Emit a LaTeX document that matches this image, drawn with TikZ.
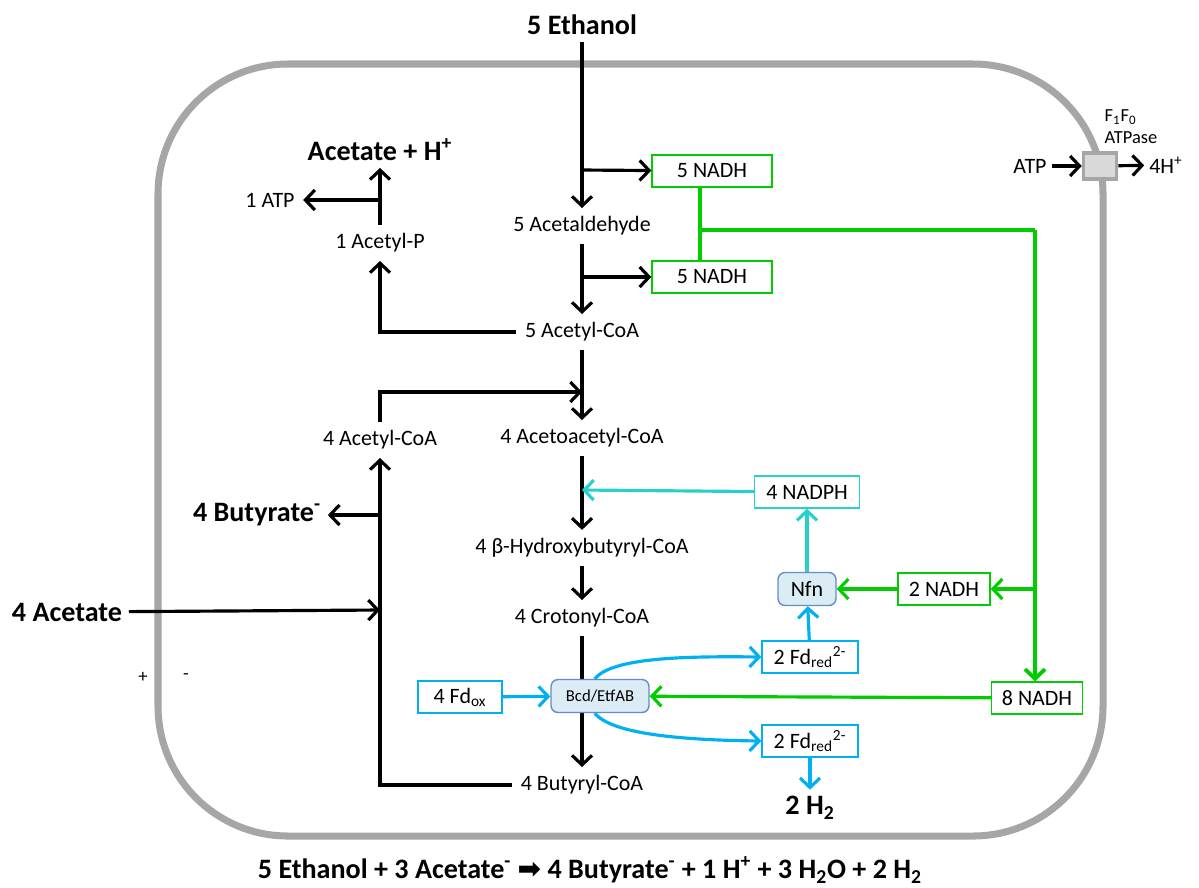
\documentclass[tikz,border=0pt]{standalone}
\usepackage{fontspec}
\setmainfont{Carlito}
\newfontfamily\dejavu{DejaVu Sans}
\usepackage{tikz}
\usetikzlibrary{arrows.meta, positioning}
\usepackage{xcolor}
\definecolor{grn}{RGB}{0,204,0}
\definecolor{cyn}{RGB}{40,208,204}
\definecolor{blu}{RGB}{0,176,240}
\definecolor{enzfill}{RGB}{219,236,244}
\definecolor{enzline}{RGB}{100,140,200}
\definecolor{membr}{RGB}{166,166,166}
\tikzset{>={Straight Barb[length=1.9mm,width=4mm]}}

\begin{document}
\begin{tikzpicture}[x=0.02cm, y=-0.02cm, line width=1.8pt,
    met/.style={font=\fontsize{12.5}{15}\selectfont, inner sep=4pt},
    bold/.style={font=\bfseries\fontsize{16}{19}\selectfont, inner sep=3pt},
    cof/.style={draw, line width=0.8pt, fill=white, font=\fontsize{12.5}{15}\selectfont,
                minimum height=0.64cm, inner sep=2pt},
    enz/.style={draw=enzline, fill=enzfill, line width=0.8pt, rounded corners=4pt,
                minimum height=0.66cm, inner sep=2pt},
    arr/.style={->},
    small/.style={font=\fontsize{10.5}{12.5}\selectfont, inner sep=1pt}]

    \useasboundingbox (0,0) rectangle (1199,887);

    % Zellmembran
    \draw[membr, line width=4pt, rounded corners=2.6cm] (158,64) rectangle (1103,836);

    % Metabolite
    \node[bold] (eth) at (582,25) {5 Ethanol};
    \node[met] (ald) at (582,226) {5 Acetaldehyde};
    \node[met] (acoa5) at (582,332) {5 Acetyl-CoA};
    \node[met] (acp) at (380,243) {1 Acetyl-P};
    \node[bold] (ach) at (380,150) {Acetate + H\textsuperscript{+}};
    \node[met] (atp1) at (270,200) {1 ATP};
    \node[met] (acoa4) at (380,440) {4 Acetyl-CoA};
    \node[met] (aaca) at (582,438) {4 Acetoacetyl-CoA};
    \node[met] (hbc) at (582,548) {4 β-Hydroxybutyryl-CoA};
    \node[met] (crot) at (582,618) {4 Crotonyl-CoA};
    \node[met] (bcoa) at (582,785) {4 Butyryl-CoA};
    \node[bold] (but) at (257,515) {4 Butyrate\textsuperscript{-}};
    \node[bold] (acet) at (67,612) {4 Acetate};
    \node[bold] (h2) at (810,808) {2 H\textsubscript{2}};

    % Kofaktoren
    \node[cof, draw=grn, minimum width=2.4cm] (nadh1) at (712,171) {5 NADH};
    \node[cof, draw=grn, minimum width=2.4cm] (nadh1b) at (712,277) {5 NADH};
    \node[cof, draw=cyn, minimum width=2.1cm] (nadph) at (807,492) {4 NADPH};
    \node[cof, draw=grn, minimum width=1.84cm] (nadh2) at (944,589) {2 NADH};
    \node[cof, draw=grn, minimum width=1.82cm] (nadh8) at (1037,698) {8 NADH};
    \node[cof, draw=blu, minimum width=1.68cm] (fdox) at (460,697) {4 Fd\textsubscript{ox}};
    \node[cof, draw=blu, minimum width=1.92cm] (fdr1) at (810,657) {2 Fd\textsubscript{red}\textsuperscript{2-}};
    \node[cof, draw=blu, minimum width=1.92cm] (fdr2) at (810,741) {2 Fd\textsubscript{red}\textsuperscript{2-}};

    % Hauptweg
    \coordinate (b1) at (582,170);
    \coordinate (b2) at (582,277);
    \coordinate (j1) at (582,392);
    \coordinate (j2) at (380,610);
    \coordinate (j3) at (380,515);
    \coordinate (j4) at (582,490);
    \coordinate (j5) at (380,200);
    \draw[arr] (eth) -- (ald);
    \draw[arr] (b1) -- (nadh1);
    \draw[arr] (ald) -- (acoa5);
    \draw[arr] (b2) -- (nadh1b);
    \draw[arr] (acoa5.west) -| (acp);
    \draw[arr] (acp) -- (ach);
    \draw[arr] (j5) -- (atp1);
    \draw[arr] (acoa5) -- (aaca);
    \draw[arr] (acoa4) |- (j1);
    \draw[arr] (aaca) -- (hbc);
    \draw[arr] (hbc) -- (crot);
    \draw[arr] (crot) -- (bcoa);
    \draw[arr] (bcoa.west) -| (acoa4);
    \draw[arr] (acet) -- (j2);
    \draw[arr] (j3) -- (but);

    % Enzyme
    \node[enz, minimum width=1.96cm, font=\fontsize{9.5}{11}\selectfont] (bcd) at (600,696) {Bcd/EtfAB};
    \node[enz, minimum width=1.16cm, font=\fontsize{12.5}{15}\selectfont] (nfn) at (807,589) {Nfn};

    % Ferredoxin und NADPH
    \draw[arr, blu] (fdox) -- (bcd);
    \draw[arr, blu] ([xshift=-3pt]bcd.north) .. controls (612,658) and (680,656) .. (fdr1.west);
    \draw[arr, blu] ([xshift=-3pt]bcd.south) .. controls (612,734) and (680,740) .. (fdr2.west);
    \draw[arr, blu] (fdr2) -- (h2);
    \draw[arr, blu] (fdr1) -- (nfn);
    \draw[arr, cyn] (nfn) -- (nadph);
    \draw[arr, cyn] (nadph) -- (j4);

    % NADH Verteilung
    \coordinate (g1) at (700,230);
    \coordinate (g2) at (1035,230);
    \coordinate (g3) at (1035,589);
    \draw[grn, line width=2.2pt] (g1 |- nadh1.south) -- (g1 |- nadh1b.north);
    \draw[grn, line width=2.8pt] (g1) -- (g2);
    \draw[arr, grn, line width=2.2pt] (g2) -- (g2 |- nadh8.north);
    \draw[arr, grn] (g3) -- (nadh2);
    \draw[arr, grn] (nadh2) -- (nfn);
    \draw[arr, grn] (nadh8) -- (bcd);

    % ATPase in der Membran
    \node[draw=membr, fill=black!15, line width=2pt, minimum width=0.66cm, minimum height=0.52cm] (atpase) at (1100,166) {};
    \node[small, align=left] (f1f0) at (1131,127) {F\textsubscript{1}F\textsubscript{0}\\ATPase};
    \node[met, inner sep=2pt] (atp) at (1030,166) {ATP};
    \node[met, inner sep=2pt] (hplus) at (1166,165) {4H\textsuperscript{+}};
    \draw[arr] (atp) -- (atpase);
    \draw[arr] (atpase) -- (hplus);

    % Ladung
    \node[small] (plus) at (143,677) {+};
    \node[small] (minus) at (186,677) {-};

    % Bilanz
    \node[bold] (eq) at (590,870) {5 Ethanol + 3 Acetate\textsuperscript{-} {\dejavu ➡} 4 Butyrate\textsuperscript{-} + 1 H\textsuperscript{+} + 3 H\textsubscript{2}O + 2 H\textsubscript{2}};

\end{tikzpicture}
\end{document}
